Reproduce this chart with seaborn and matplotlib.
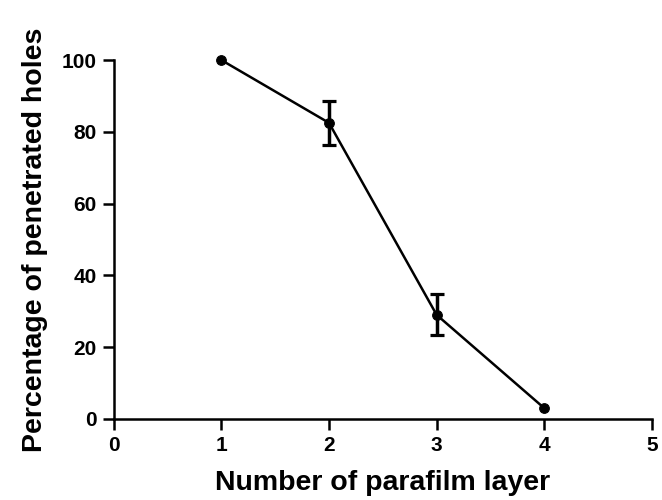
import numpy as np
import pandas as pd
import matplotlib
matplotlib.use("Agg")
import matplotlib.pyplot as plt
import seaborn as sns

sns.set_style("ticks")
plt.rcParams['font.family'] = ['Liberation Sans', 'DejaVu Sans']
plt.rcParams['font.weight'] = 'bold'
plt.rcParams['text.color'] = 'black'
plt.rcParams['axes.labelcolor'] = 'black'

# data
layers = [1, 2, 3, 4]
percent = [100, 82.5, 29, 3]
sem = [0, 6.1, 5.7, 0]

df = pd.DataFrame({'layer': layers, 'pct': percent, 'err': sem})

fig = plt.figure(figsize=(6.62, 5), dpi=100)
ax = fig.add_axes([0.1715, 0.162, 0.8135, 0.718])

sns.lineplot(data=df, x='layer', y='pct', ax=ax, color='black', linewidth=1.8,
             marker='o', markersize=7, markeredgecolor='black', clip_on=False)
# only the points that have a spread get a bar
eb = df[df['err'] > 0]
ax.errorbar(eb['layer'], eb['pct'], yerr=eb['err'], fmt='none', ecolor='black',
            elinewidth=2.5, capsize=5.2, capthick=2.3, clip_on=False)

ax.set_xlim(0, 5)
ax.set_ylim(0, 100)
ax.set_xticks([0, 1, 2, 3, 4, 5])
ax.set_yticks([0, 20, 40, 60, 80, 100])
sns.despine(ax=ax)
for s in ['left', 'bottom']:
    ax.spines[s].set_linewidth(1.8)
    ax.spines[s].set_color('black')
ax.tick_params(axis='both', length=8, width=1.8, color='black', labelsize=15,
               labelcolor='black', pad=4)
for lab in ax.get_xticklabels() + ax.get_yticklabels():
    lab.set_fontweight('bold')

ax.set_xlabel("Number of parafilm layer", fontsize=20.5, fontweight='bold',
              labelpad=11, color='black')
ax.set_ylabel("Percentage of penetrated holes", fontsize=20.5, fontweight='bold',
              labelpad=10, color='black')

fig.savefig("out.png", dpi=100)
